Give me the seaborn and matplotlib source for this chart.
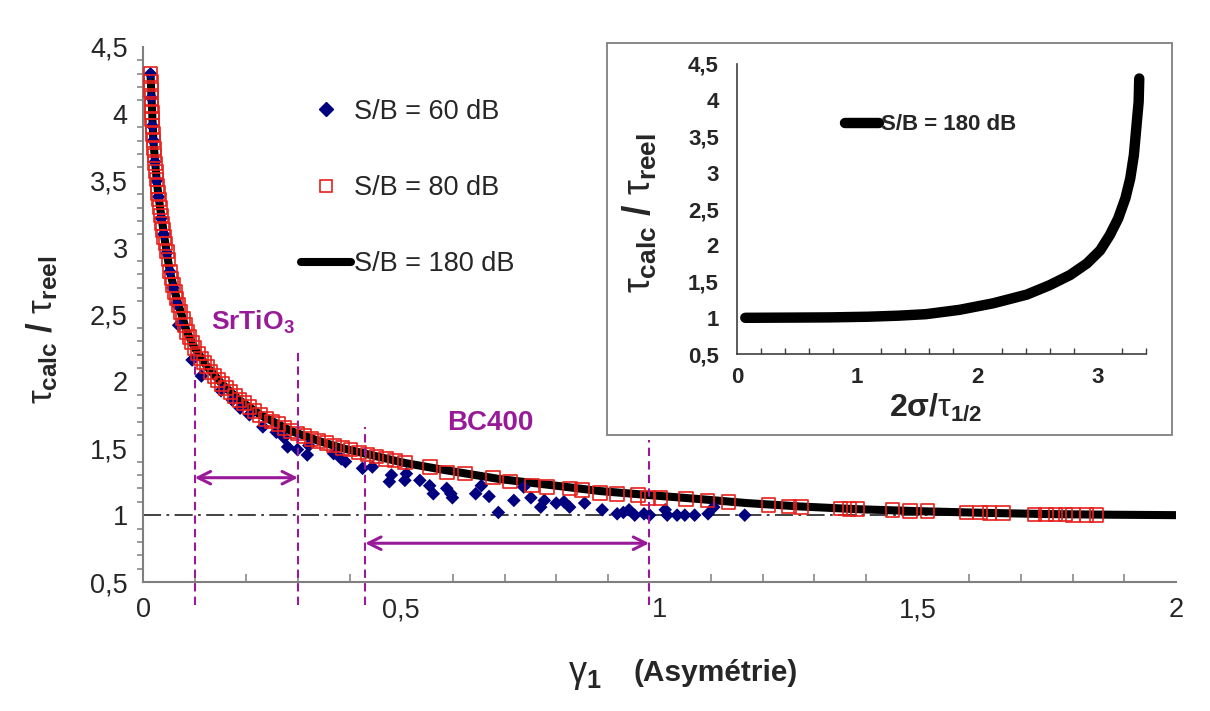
import matplotlib
matplotlib.use("Agg")
import matplotlib.pyplot as plt
from matplotlib.lines import Line2D
from matplotlib.patches import Rectangle
from matplotlib.ticker import MultipleLocator, FuncFormatter
import seaborn as sns

# theoretical curve, S/B = 180 dB
theory_x = [0.0145, 0.02, 0.027, 0.033, 0.042, 0.052, 0.065, 0.085, 0.1, 0.124, 0.153, 0.187,
            0.227, 0.286, 0.34, 0.386, 0.452, 0.507, 0.58, 0.69, 0.80, 0.885, 0.98, 1.078,
            1.17, 1.272, 1.38, 1.5, 1.62, 1.75, 1.88, 2.0]
theory_y = [4.30, 3.80, 3.48, 3.30, 3.06, 2.82, 2.62, 2.37, 2.25, 2.11, 1.98, 1.86,
            1.75, 1.63, 1.555, 1.50, 1.44, 1.39, 1.34, 1.27, 1.22, 1.18, 1.15, 1.12,
            1.09, 1.065, 1.045, 1.03, 1.018, 1.008, 1.003, 1.0]

# S/B = 80 dB (open squares)
sb80_x = [0.0145, 0.015, 0.0155, 0.016, 0.0165, 0.017, 0.0175, 0.018, 0.019, 0.02, 0.021, 0.022,
          0.0235, 0.025, 0.0265, 0.028, 0.0295, 0.031, 0.033, 0.035, 0.037, 0.039, 0.041, 0.0435,
          0.046, 0.049, 0.052, 0.055, 0.058, 0.0615, 0.065, 0.069, 0.073, 0.077, 0.081, 0.085,
          0.09, 0.095, 0.1, 0.106, 0.112, 0.118, 0.124, 0.131, 0.138, 0.145, 0.153, 0.161,
          0.169, 0.178, 0.187, 0.196, 0.206, 0.216, 0.227, 0.238, 0.25, 0.262, 0.274, 0.286,
          0.299, 0.312, 0.326, 0.34, 0.355, 0.37, 0.386, 0.402, 0.418, 0.435, 0.452, 0.47,
          0.488, 0.507, 0.556, 0.589, 0.623, 0.678, 0.711, 0.753, 0.782, 0.827, 0.85, 0.885,
          0.918, 0.958, 0.978, 1.002, 1.051, 1.093, 1.134, 1.211, 1.251, 1.274, 1.35, 1.368,
          1.383, 1.451, 1.485, 1.519, 1.594, 1.62, 1.639, 1.665, 1.726, 1.748, 1.767, 1.786,
          1.801, 1.827, 1.846]
sb80_y = [4.30, 4.24, 4.18, 4.12, 4.06, 4.01, 3.96, 3.91, 3.85, 3.80, 3.74, 3.69,
          3.63, 3.57, 3.51, 3.46, 3.41, 3.36, 3.30, 3.24, 3.18, 3.13, 3.08, 3.03,
          2.97, 2.91, 2.82, 2.77, 2.72, 2.67, 2.62, 2.57, 2.52, 2.47, 2.42, 2.37,
          2.33, 2.29, 2.25, 2.21, 2.17, 2.14, 2.11, 2.07, 2.04, 2.01, 1.98, 1.95,
          1.92, 1.89, 1.86, 1.84, 1.81, 1.78, 1.75, 1.72, 1.70, 1.68, 1.65, 1.63,
          1.61, 1.59, 1.57, 1.555, 1.54, 1.52, 1.50, 1.49, 1.47, 1.455, 1.44, 1.42,
          1.41, 1.395, 1.36, 1.32, 1.31, 1.28, 1.25, 1.22, 1.21, 1.20, 1.19, 1.165,
          1.16, 1.15, 1.13, 1.13, 1.12, 1.11, 1.10, 1.075, 1.065, 1.06, 1.05, 1.045,
          1.045, 1.04, 1.03, 1.03, 1.02, 1.02, 1.015, 1.015, 1.005, 1.005, 1.005, 1.005,
          1.0, 1.0, 1.0]

# S/B = 60 dB (filled diamonds)
sb60_x = [0.0145, 0.016, 0.018, 0.02, 0.023, 0.026, 0.03, 0.035, 0.04, 0.046, 0.052, 0.058,
          0.064, 0.069, 0.095, 0.113, 0.151, 0.173, 0.188, 0.206, 0.232, 0.258, 0.273, 0.28,
          0.299, 0.318, 0.321, 0.369, 0.384, 0.392, 0.425, 0.444, 0.477, 0.481, 0.507, 0.51,
          0.536, 0.555, 0.562, 0.588, 0.596, 0.599, 0.644, 0.655, 0.67, 0.688, 0.718, 0.737,
          0.751, 0.77, 0.777, 0.80, 0.815, 0.826, 0.855, 0.889, 0.918, 0.93, 0.941, 0.952,
          0.97, 0.981, 1.011, 1.015, 1.034, 1.049, 1.068, 1.094, 1.105, 1.165]
sb60_y = [4.30, 4.12, 3.91, 3.80, 3.64, 3.50, 3.38, 3.22, 3.10, 2.96, 2.82, 2.70,
          2.58, 2.42, 2.16, 2.04, 1.93, 1.86, 1.80, 1.75, 1.66, 1.62, 1.58, 1.51,
          1.49, 1.45, 1.52, 1.46, 1.42, 1.40, 1.35, 1.36, 1.25, 1.30, 1.26, 1.31,
          1.26, 1.22, 1.16, 1.20, 1.16, 1.13, 1.16, 1.22, 1.14, 1.02, 1.11, 1.21,
          1.13, 1.06, 1.11, 1.09, 1.10, 1.06, 1.09, 1.04, 1.01, 1.02, 1.04, 1.00,
          1.01, 1.00, 1.04, 1.00, 1.00, 1.00, 1.00, 1.01, 1.06, 1.00]

# inset: tau_calc/tau_reel against 2 sigma / tau_1/2
inset_x = [0.07, 0.45, 0.77, 1.09, 1.35, 1.57, 1.85, 2.13, 2.41, 2.60, 2.77, 2.91,
           3.02, 3.10, 3.17, 3.23, 3.27, 3.30, 3.32, 3.34, 3.345]
inset_y = [1.0, 1.003, 1.006, 1.015, 1.03, 1.05, 1.11, 1.20, 1.32, 1.45, 1.59, 1.75,
           1.93, 2.14, 2.37, 2.65, 2.92, 3.24, 3.61, 3.98, 4.30]

# material ranges of the asymmetry
srtio3_range = [0.1, 0.3]
bc400_range = [0.43, 0.98]

purple = "#991A99"
navy = "#00007F"
red = "#E8201C"

sns.set_style("white")
plt.rcParams["font.family"] = ["Liberation Sans", "DejaVu Sans"]
plt.rcParams["mathtext.fontset"] = "custom"
plt.rcParams["mathtext.rm"] = "Liberation Sans"
plt.rcParams["mathtext.it"] = "Liberation Sans"
plt.rcParams["mathtext.bf"] = "Liberation Sans:bold"

comma = FuncFormatter(lambda v, p: f"{v:g}".replace(".", ","))

fig = plt.figure(figsize=(12.1, 7.11), dpi=100)
ax = fig.add_axes([0.1182, 0.1814, 0.8537, 0.7525])

# reference line at 1
ax.axhline(1.0, xmin=0, xmax=1, color="#333333", lw=1.3, ls=(0, (10, 3, 1.5, 3)), zorder=1)

# curves
sns.lineplot(x=theory_x, y=theory_y, color="black", lw=5.8, sort=False, estimator=None,
             ax=ax, zorder=2, solid_capstyle="butt", solid_joinstyle="round")
sns.scatterplot(x=sb60_x, y=sb60_y, marker="D", s=48, color=navy, edgecolor="none",
                ax=ax, zorder=3)
sns.scatterplot(x=sb80_x, y=sb80_y, marker="s", s=95, facecolor="none", edgecolor=red,
                linewidth=1.2, ax=ax, zorder=4)

# range marks
dash = (0, (4, 2.5))
for xv, top in zip(srtio3_range + bc400_range, [2.16, 2.25, 1.66, 1.56]):
    ax.plot([xv, xv], [0.33, top], color=purple, lw=1.5, ls=dash, clip_on=False, zorder=5)
arrow = dict(arrowstyle="<->,head_length=0.9,head_width=0.45", color=purple, lw=2.2,
             shrinkA=0, shrinkB=0)
ax.annotate("", xy=(srtio3_range[1], 1.28), xytext=(srtio3_range[0], 1.28), arrowprops=arrow)
ax.annotate("", xy=(bc400_range[1], 0.79), xytext=(bc400_range[0], 0.79), arrowprops=arrow)
ax.text(0.132, 2.44, r"SrTiO$_\mathbf{3}$", color=purple, fontsize=19, fontweight="bold",
        ha="left", va="center")
ax.text(0.672, 1.69, "BC400", color=purple, fontsize=20, fontweight="bold",
        ha="center", va="center")

ax.set_xlim(0, 2)
ax.set_ylim(0.5, 4.5)
ax.xaxis.set_major_locator(MultipleLocator(0.5))
ax.xaxis.set_minor_locator(MultipleLocator(0.1))
ax.yaxis.set_major_locator(MultipleLocator(0.5))
ax.yaxis.set_minor_locator(MultipleLocator(0.1))
ax.xaxis.set_major_formatter(comma)
ax.yaxis.set_major_formatter(comma)
for s in ["top", "right"]:
    ax.spines[s].set_visible(False)
for s in ["left", "bottom"]:
    ax.spines[s].set_color("#7F7F7F")
    ax.spines[s].set_linewidth(1.5)
ax.tick_params(which="major", direction="inout", length=10, width=1.3, color="#7F7F7F",
               labelsize=19.5, pad=6)
ax.tick_params(axis="y", which="minor", direction="out", length=4, width=1.1, color="#7F7F7F", left=True)
ax.tick_params(axis="x", which="minor", direction="in", length=6, width=1.1, color="#7F7F7F", bottom=True)

ax.set_ylabel(r"$\tau_{\mathbf{calc}}$ / $\tau_{\mathbf{reel}}$", fontsize=25, fontweight="bold")
ax.yaxis.set_label_coords(-0.08, 0.471)
ax.set_xlabel("(Asymétrie)", fontsize=21.5, fontweight="bold")
ax.xaxis.set_label_coords(0.554, -0.144)
ax.text(0.411, -0.172, r"$\gamma_{\mathbf{1}}$", transform=ax.transAxes, fontsize=26,
        ha="left", va="center")

handles = [
    Line2D([], [], marker="D", ls="none", color=navy, markersize=7),
    Line2D([], [], marker="s", ls="none", markerfacecolor="none", markeredgecolor=red,
           markeredgewidth=1.2, markersize=9),
    Line2D([], [], color="black", lw=5.8, solid_capstyle="round"),
]
ax.legend(handles, ["S/B = 60 dB", "S/B = 80 dB", "S/B = 180 dB"], loc="upper left",
          bbox_to_anchor=(0.153, 0.903), frameon=False, fontsize=19.5, labelspacing=1.85,
          handlelength=1.85, handletextpad=0.1, borderpad=0, borderaxespad=0)

# inset
box = Rectangle((0.5017, 0.388), 0.467, 0.551, transform=fig.transFigure, facecolor="white",
                edgecolor="#7F7F7F", lw=1.3, zorder=1)
fig.patches.append(box)
axi = fig.add_axes([0.609, 0.502, 0.338, 0.408], facecolor="none")
axi.set_zorder(2)
sns.lineplot(x=inset_x, y=inset_y, color="black", lw=7.5, sort=False, estimator=None,
             ax=axi, label="S/B = 180 dB", solid_capstyle="round", solid_joinstyle="round")
axi.set_xlim(0, 3.4)
axi.set_ylim(0.5, 4.5)
axi.xaxis.set_major_locator(MultipleLocator(1))
axi.xaxis.set_minor_locator(MultipleLocator(0.2))
axi.yaxis.set_major_locator(MultipleLocator(0.5))
axi.yaxis.set_major_formatter(comma)
axi.xaxis.set_major_formatter(comma)
for s in ["top", "right"]:
    axi.spines[s].set_visible(False)
for s in ["left", "bottom"]:
    axi.spines[s].set_color("#404040")
    axi.spines[s].set_linewidth(1.2)
axi.tick_params(axis="y", which="major", direction="out", length=5, width=1.1, color="#404040",
                labelsize=16, pad=8)
axi.tick_params(axis="x", which="major", direction="inout", length=9, width=1.1, color="#404040",
                labelsize=16, pad=5)
axi.tick_params(axis="x", which="minor", direction="in", length=4, width=1.0, color="#404040", bottom=True)
for lab in axi.get_xticklabels() + axi.get_yticklabels():
    lab.set_fontweight("bold")
axi.set_ylabel(r"$\tau_{\mathbf{calc}}$ / $\tau_{\mathbf{reel}}$", fontsize=27, fontweight="bold")
axi.yaxis.set_label_coords(-0.19, 0.486)
axi.set_xlabel(r"2σ/$\tau_{\mathbf{1/2}}$", fontsize=23, fontweight="bold")
axi.xaxis.set_label_coords(0.487, -0.13)
axi.legend(loc="center left", bbox_to_anchor=(0.264, 0.79), frameon=False, handlelength=1.55,
           handletextpad=0.08, borderpad=0, borderaxespad=0,
           prop={"size": 16, "weight": "bold"})

fig.savefig("out.png", dpi=100)
